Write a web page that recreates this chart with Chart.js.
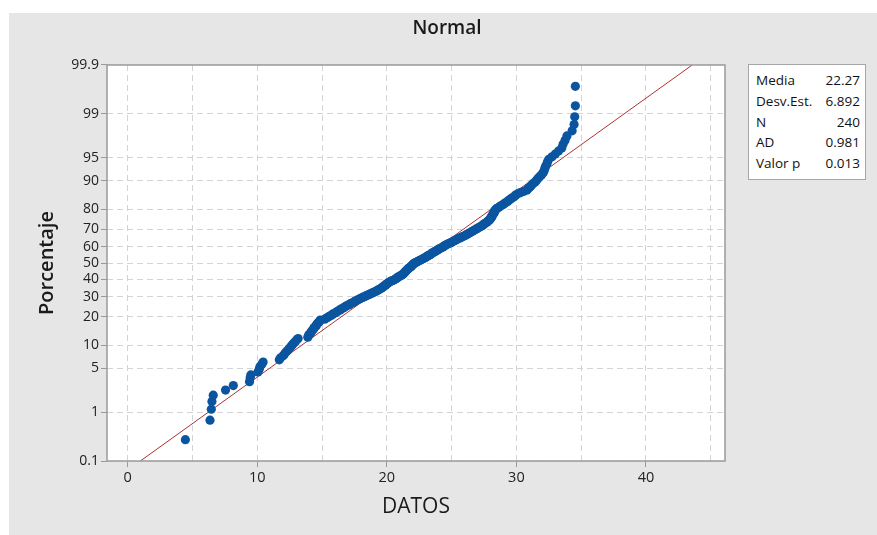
<!DOCTYPE html>
<html>
<head>
<meta charset="utf-8">
<script src="https://cdn.jsdelivr.net/npm/chart.js@4/dist/chart.umd.min.js"></script>
<style>
  html, body { margin: 0; padding: 0; background: #fff; overflow: hidden; }
  #wrap { position: relative; width: 877px; height: 535px; }
  #plot { position: absolute; left: 0; top: 0; }
  #titulo {
    position: absolute; left: 347px; top: 13px; width: 200px; text-align: center;
    font: 600 19px "Open Sans", sans-serif; color: #1a1a1a; line-height: 28px;
  }
  #stats {
    position: absolute; left: 748px; top: 64px; width: 118px; height: 116px;
    box-sizing: border-box; border: 1px solid #a6a6a6; background: #fff;
    padding: 5px 5px 0 7px; font: 13.5px "Open Sans", sans-serif; color: #111;
  }
  #stats .fila { display: flex; justify-content: space-between; height: 20.8px; line-height: 20.8px; white-space: nowrap; }
</style>
</head>
<body>
<div id="wrap">
  <canvas id="plot" width="877" height="535"></canvas>
  <div id="titulo">Normal</div>
  <div id="stats"></div>
</div>
<script>
// Sorted sample values (DATOS), n = 240
const datos = [
  4.45, 6.35, 6.45, 6.5, 6.6, 7.55, 8.15, 9.4, 9.45, 9.5,
  10.05, 10.15, 10.2, 10.35, 10.45,
  11.7, 11.8, 12.0, 12.1, 12.2, 12.35, 12.45, 12.55, 12.65, 12.75, 12.85, 12.95, 13.05, 13.15,
  13.9, 13.95, 14.0, 14.1, 14.15, 14.2, 14.3, 14.35, 14.4, 14.5, 14.55, 14.6, 14.65, 14.75, 14.8, 14.85,
  15.2, 15.3, 15.45, 15.55, 15.7, 15.8, 15.9, 16.05, 16.15, 16.25, 16.4, 16.45, 16.6, 16.7, 16.8,
  16.9, 17.05, 17.15, 17.25, 17.4, 17.5, 17.6, 17.7, 17.85, 17.95,
  18.1, 18.2, 18.35, 18.45, 18.6, 18.7, 18.85, 18.95, 19.1, 19.2,
  19.3, 19.4, 19.5, 19.6, 19.65, 19.75, 19.8, 19.9, 19.95, 20.0,
  20.1, 20.15, 20.25, 20.35, 20.5, 20.6, 20.7, 20.75, 20.85, 20.9,
  21.0, 21.1, 21.2, 21.25, 21.3, 21.35, 21.4, 21.45, 21.5, 21.55,
  21.6, 21.65, 21.7, 21.8, 21.85, 21.9, 21.95, 22.0, 22.05, 22.1,
  22.2, 22.3, 22.4, 22.5, 22.6, 22.7, 22.8, 22.9, 23.0, 23.05,
  23.15, 23.25, 23.35, 23.4, 23.5,
  23.55, 23.65, 23.75, 23.85, 23.9, 24.0, 24.1, 24.2, 24.3, 24.4,
  24.45, 24.55, 24.65, 24.75, 24.9,
  25.0, 25.1, 25.2, 25.3, 25.4, 25.5, 25.65, 25.75, 25.85, 26.0,
  26.1, 26.2, 26.3, 26.4, 26.5, 26.6, 26.7, 26.8, 26.9, 27.0,
  27.1, 27.2, 27.3, 27.4, 27.5, 27.55, 27.65, 27.75, 27.8, 27.9,
  27.95, 28.0, 28.05, 28.1, 28.1, 28.15, 28.2, 28.25, 28.3, 28.3, 28.35, 28.4, 28.45,
  28.6, 28.7, 28.8, 28.95, 29.05, 29.15, 29.3,
  29.4, 29.5, 29.6, 29.75, 29.85, 29.95, 30.1, 30.3,
  30.55, 30.8,
  30.9, 31.0, 31.1, 31.2, 31.3, 31.45, 31.55,
  31.65, 31.75, 31.9, 32.0, 32.1,
  32.15, 32.2, 32.25, 32.35, 32.4, 32.5,
  32.75, 33.0, 33.25, 33.5, 33.6, 33.75, 33.9,
  34.3, 34.45, 34.5, 34.55, 34.55
];

// Fitted normal parameters and summary statistics
const media = 22.27;
const desvEst = 6.892;
const statNombres = ['Media', 'Desv.Est.', 'N', 'AD', 'Valor p'];
const statValores = ['22.27', '6.892', '240', '0.981', '0.013'];

// Probability-scale tick labels (percent) and x tick positions
const pctTicks = [0.1, 1, 5, 10, 20, 30, 40, 50, 60, 70, 80, 90, 95, 99, 99.9];
const pctLabels = ['0.1', '1', '5', '10', '20', '30', '40', '50', '60', '70', '80', '90', '95', '99', '99.9'];
const xTicks = [0, 5, 10, 15, 20, 25, 30, 35, 40, 45];
const xLabeled = [0, 10, 20, 30, 40];

// Inverse of the standard normal CDF (Acklam's rational approximation)
function normInv(p) {
  const a = [-3.969683028665376e+01, 2.209460984245205e+02, -2.759285104469687e+02, 1.383577518672690e+02, -3.066479806614716e+01, 2.506628277459239e+00];
  const b = [-5.447609879822406e+01, 1.615858368580409e+02, -1.556989798598866e+02, 6.680131188771972e+01, -1.328068155288572e+01];
  const c = [-7.784894002430293e-03, -3.223964580411365e-01, -2.400758277161838e+00, -2.549671010115233e+00, 4.374664141464968e+00, 2.938163982698783e+00];
  const d = [7.784695709041462e-03, 3.224671290700398e-01, 2.445134137142996e+00, 3.754408661907416e+00];
  const pl = 0.02425, ph = 1 - pl;
  let q, r;
  if (p < pl) {
    q = Math.sqrt(-2 * Math.log(p));
    return (((((c[0]*q+c[1])*q+c[2])*q+c[3])*q+c[4])*q+c[5]) / ((((d[0]*q+d[1])*q+d[2])*q+d[3])*q+1);
  }
  if (p <= ph) {
    q = p - 0.5; r = q * q;
    return (((((a[0]*r+a[1])*r+a[2])*r+a[3])*r+a[4])*r+a[5])*q / (((((b[0]*r+b[1])*r+b[2])*r+b[3])*r+b[4])*r+1);
  }
  q = Math.sqrt(-2 * Math.log(1 - p));
  return -(((((c[0]*q+c[1])*q+c[2])*q+c[3])*q+c[4])*q+c[5]) / ((((d[0]*q+d[1])*q+d[2])*q+d[3])*q+1);
}

// Median-rank plotting positions, drawn on a normal-score axis
const n = datos.length;
const puntos = datos.map((v, i) => ({ x: v, y: normInv((i + 1 - 0.3) / (n + 0.4)) }));
const zMax = normInv(0.999);
const ajuste = [
  { x: media - zMax * desvEst, y: -zMax },
  { x: media + zMax * desvEst, y: zMax }
];

// Stats legend box
const statsBox = document.getElementById('stats');
statNombres.forEach((nm, i) => {
  const row = document.createElement('div');
  row.className = 'fila';
  const a = document.createElement('span'); a.textContent = nm;
  const b = document.createElement('span'); b.textContent = statValores[i];
  row.appendChild(a); row.appendChild(b);
  statsBox.appendChild(row);
});

const PANEL = '#e6e6e6';
const FRAME = '#9a9a9a';
const GRID = '#d4d4d4';
const FONT = '"Open Sans", sans-serif';

const fondo = {
  id: 'fondo',
  beforeDraw(chart) {
    const { ctx, chartArea: ca } = chart;
    ctx.save();
    ctx.fillStyle = '#ffffff';
    ctx.fillRect(0, 0, chart.width, chart.height);
    ctx.fillStyle = PANEL;
    ctx.fillRect(9, 13, chart.width - 9, chart.height - 13);
    ctx.fillStyle = '#ffffff';
    ctx.fillRect(ca.left, ca.top, ca.right - ca.left, ca.bottom - ca.top);
    ctx.restore();
  },
  afterDraw(chart) {
    const { ctx, chartArea: ca } = chart;
    ctx.save();
    ctx.strokeStyle = FRAME;
    ctx.lineWidth = 1.5;
    ctx.strokeRect(ca.left, ca.top, ca.right - ca.left, ca.bottom - ca.top);
    ctx.restore();
  }
};

new Chart(document.getElementById('plot'), {
  data: {
    datasets: [
      {
        // sample points, drawn above the fitted line
        type: 'scatter',
        data: puntos,
        backgroundColor: '#0b55a0',
        borderColor: '#0b55a0',
        borderWidth: 0,
        pointRadius: 4.6,
        order: 0
      },
      {
        // fitted normal reference line
        type: 'scatter',
        data: ajuste,
        showLine: true,
        borderColor: '#b03232',
        borderWidth: 1,
        pointRadius: 0,
        order: 1
      }
    ]
  },
  options: {
    responsive: false,
    animation: false,
    events: [],
    layout: { padding: { top: 65, right: 152, left: 0, bottom: 0 } },
    plugins: { legend: { display: false }, tooltip: { enabled: false } },
    scales: {
      x: {
        type: 'linear',
        position: 'bottom',
        min: -1.6,
        max: 46.1,
        afterBuildTicks(scale) { scale.ticks = xTicks.map(v => ({ value: v })); },
        afterFit(scale) { scale.height = 74; },
        ticks: {
          autoSkip: false, maxRotation: 0, padding: 2,
          color: '#222', font: { family: FONT, size: 14.5 },
          callback: v => (xLabeled.includes(v) ? String(v) : '')
        },
        grid: {
          color: GRID, lineWidth: 1, tickLength: 6, tickWidth: 1,
          tickColor: ctx => (ctx.tick && xLabeled.includes(ctx.tick.value)) ? FRAME : 'rgba(0,0,0,0)'
        },
        border: { display: false, dash: [6, 4] },
        title: {
          display: true, text: 'DATOS', color: '#1a1a1a',
          font: { family: FONT, size: 21 }, padding: { top: 0, bottom: 15 }
        }
      },
      y: {
        type: 'linear',
        position: 'left',
        min: -zMax,
        max: zMax,
        afterBuildTicks(scale) { scale.ticks = pctTicks.map(p => ({ value: normInv(p / 100) })); },
        afterFit(scale) { scale.width = 107; },
        ticks: {
          autoSkip: false, padding: 2,
          color: '#222', font: { family: FONT, size: 14 },
          callback: (v, i) => pctLabels[i]
        },
        grid: { color: GRID, lineWidth: 1, tickLength: 6, tickWidth: 1, tickColor: FRAME },
        border: { display: false, dash: [6, 4] },
        title: {
          display: true, text: 'Porcentaje', color: '#1a1a1a',
          font: { family: FONT, size: 20, weight: '600' }, padding: { top: 35, bottom: 0 }
        }
      }
    }
  },
  plugins: [fondo]
});
</script>
</body>
</html>
